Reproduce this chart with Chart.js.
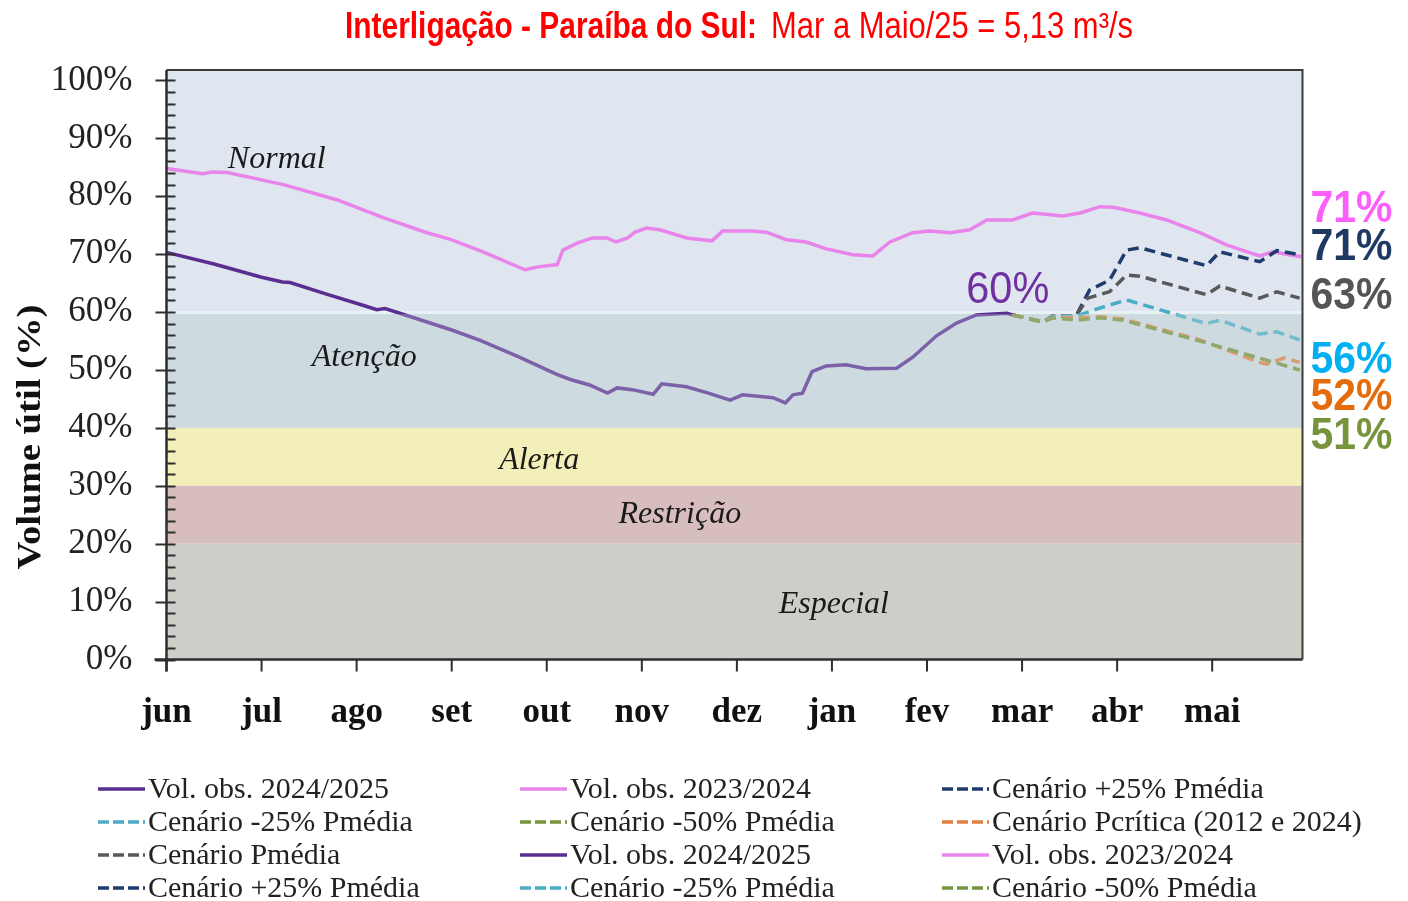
<!DOCTYPE html>
<html>
<head>
<meta charset="utf-8">
<script src="https://cdn.jsdelivr.net/npm/chart.js@4"></script>
<style>
  html, body { margin: 0; padding: 0; background: #fff; }
  #wrap { width: 1408px; height: 901px; position: relative; }
</style>
</head>
<body>
<div id="wrap"><canvas id="volChart" width="1408" height="901"></canvas></div>
<script>
// x values are months counted from 1 June (0 = jun, 11 = mai)
const monthLabels = ['jun', 'jul', 'ago', 'set', 'out', 'nov', 'dez', 'jan', 'fev', 'mar', 'abr', 'mai'];
const yTickValues = [0, 10, 20, 30, 40, 50, 60, 70, 80, 90, 100];

const seriesNames = [
  'Vol. obs. 2024/2025',
  'Vol. obs. 2023/2024',
  'Cenário +25% Pmédia',
  'Cenário -25% Pmédia',
  'Cenário -50% Pmédia',
  'Cenário Pcrítica (2012 e 2024)',
  'Cenário Pmédia'
];
// legend is laid out in 3 columns, row by row (the source repeats entries)
const legendOrder = [0, 1, 2, 3, 4, 5, 6, 0, 1, 2, 3, 4];

// Vol. obs. 2024/2025
const obs2425Months = [0.00, 0.50, 1.00, 1.22, 1.30, 1.70, 2.10, 2.21, 2.30, 2.70, 3.00, 3.30, 3.70, 4.10, 4.24, 4.45, 4.64, 4.74, 4.90, 5.12, 5.21, 5.47, 5.70, 5.93, 6.06, 6.38, 6.51, 6.59, 6.69, 6.79, 6.94, 7.15, 7.36, 7.68, 7.85, 8.10, 8.31, 8.52, 8.84, 8.90];
const obs2425Values = [70.3, 68.3, 66.0, 65.2, 65.1, 63.0, 61.0, 60.4, 60.6, 58.5, 56.9, 55.1, 52.3, 49.3, 48.4, 47.4, 46.0, 46.9, 46.6, 45.8, 47.6, 47.1, 46.0, 44.8, 45.7, 45.2, 44.3, 45.7, 46.0, 49.7, 50.7, 50.9, 50.2, 50.3, 52.2, 55.9, 58.1, 59.5, 59.8, 59.5];

// Vol. obs. 2023/2024
const obs2324Months = [0.00, 0.38, 0.48, 0.64, 1.23, 1.79, 2.28, 2.74, 2.98, 3.33, 3.77, 3.91, 4.11, 4.17, 4.32, 4.48, 4.63, 4.73, 4.85, 4.93, 5.05, 5.19, 5.47, 5.74, 5.85, 6.17, 6.31, 6.52, 6.73, 6.94, 7.22, 7.43, 7.61, 7.85, 8.03, 8.24, 8.45, 8.63, 8.90, 9.11, 9.43, 9.61, 9.82, 9.96, 10.24, 10.52, 10.87, 11.15, 11.50, 11.64, 11.94];
const obs2324Values = [84.8, 83.9, 84.2, 84.1, 82.0, 79.4, 76.3, 73.7, 72.6, 70.4, 67.3, 67.8, 68.2, 70.7, 71.9, 72.8, 72.8, 72.1, 72.8, 73.8, 74.5, 74.2, 72.8, 72.3, 74.0, 74.0, 73.8, 72.5, 72.1, 70.9, 69.9, 69.7, 72.1, 73.7, 74.0, 73.7, 74.2, 75.9, 75.9, 77.1, 76.6, 77.1, 78.2, 78.1, 77.1, 75.9, 73.7, 71.6, 69.7, 70.4, 69.5];

// Cenário +25% Pmédia
const plus25Months = [8.90, 9.22, 9.32, 9.57, 9.71, 9.92, 10.10, 10.24, 10.94, 11.08, 11.50, 11.68, 11.92];
const plus25Values = [59.5, 58.3, 59.3, 59.4, 63.8, 65.5, 70.7, 71.1, 68.0, 70.4, 68.7, 70.6, 69.9];

// Cenário Pmédia
const mediaMonths = [8.90, 9.22, 9.32, 9.57, 9.69, 9.92, 10.10, 10.24, 10.94, 11.08, 11.50, 11.68, 11.92];
const mediaValues = [59.5, 58.3, 59.3, 59.4, 62.4, 63.5, 66.4, 66.2, 63.0, 64.5, 62.4, 63.5, 62.4];

// Cenário -25% Pmédia
const minus25Months = [8.90, 9.22, 9.32, 9.57, 9.82, 10.10, 10.94, 11.08, 11.50, 11.68, 11.92];
const minus25Values = [59.5, 58.3, 59.2, 59.3, 60.7, 62.1, 58.0, 58.6, 56.2, 56.6, 55.2];

// Cenário -50% Pmédia
const minus50Months = [8.90, 9.22, 9.32, 9.57, 9.82, 10.06, 10.87, 11.57, 11.92];
const minus50Values = [59.5, 58.3, 59.0, 58.6, 59.0, 58.6, 55.0, 51.7, 50.0];

// Cenário Pcrítica (2012 e 2024)
const criticaMonths = [8.90, 9.22, 9.32, 9.57, 9.82, 10.06, 10.87, 11.50, 11.57, 11.76, 11.92];
const criticaValues = [59.5, 58.3, 59.0, 59.0, 59.2, 58.8, 55.2, 51.3, 51.0, 52.1, 51.3];

// end-of-period labels
const endLabels = ['71%', '71%', '63%', '56%', '52%', '51%'];
const peakLabel = '60%';

const seriesColors = ['#5a2d91', '#e884ea', '#1f3c6e', '#4bacc6', '#77933c', '#e0803e', '#595959'];
const dashed = [false, false, true, true, true, true, true];

const pts = (xs, ys) => xs.map((x, i) => ({ x: x, y: ys[i] }));

const makeSet = (idx, data) => ({
  label: seriesNames[idx],
  data: data,
  borderColor: seriesColors[idx],
  borderWidth: dashed[idx] ? 3.5 : 3.5,
  borderDash: dashed[idx] ? [11, 6] : [],
  pointRadius: 0,
  fill: false,
  tension: 0
});

// draw order: scenarios first, observed lines on top
const datasets = [
  makeSet(4, pts(minus50Months, minus50Values)),
  makeSet(5, pts(criticaMonths, criticaValues)),
  makeSet(3, pts(minus25Months, minus25Values)),
  makeSet(6, pts(mediaMonths, mediaValues)),
  makeSet(2, pts(plus25Months, plus25Values)),
  makeSet(1, pts(obs2324Months, obs2324Values)),
  makeSet(0, pts(obs2425Months, obs2425Values))
];

// draw text squeezed/stretched horizontally to a given width
function fitText(ctx, text, x, y, width, align) {
  const w = ctx.measureText(text).width;
  const s = width ? width / w : 1;
  ctx.save();
  ctx.translate(x, y);
  ctx.scale(s, 1);
  ctx.textAlign = 'left';
  const off = align === 'center' ? -w / 2 : (align === 'right' ? -w : 0);
  ctx.fillText(text, off, 0);
  ctx.restore();
}

const bands = [
  { from: 60, to: 200, color: '#dfe6ef' },
  { from: 40, to: 60, color: '#cddbe0' },
  { from: 30, to: 40, color: '#f2efb9' },
  { from: 20, to: 30, color: '#d7bdbd' },
  { from: 0, to: 20, color: '#cfcdc8' }
];

const bandsPlugin = {
  id: 'bands',
  beforeDatasetsDraw(chart) {
    const { ctx, chartArea: a, scales: { y } } = chart;
    ctx.save();
    bands.forEach(b => {
      const top = Math.max(a.top, y.getPixelForValue(b.to));
      const bot = y.getPixelForValue(b.from);
      ctx.fillStyle = b.color;
      ctx.fillRect(a.left, top, a.right - a.left, bot - top);
    });
    // light seam on the 60% boundary
    ctx.fillStyle = 'rgba(236,243,245,0.9)';
    ctx.fillRect(a.left, y.getPixelForValue(60) - 1, a.right - a.left, 3);
    ctx.restore();
  },
  afterDatasetsDraw(chart) {
    const { ctx, chartArea: a, scales: { x, y } } = chart;
    ctx.save();
    // the "Atenção" band sits over the lines in the source
    const t = y.getPixelForValue(60) + 2, b = y.getPixelForValue(40);
    ctx.fillStyle = 'rgba(205,219,224,0.3)';
    ctx.fillRect(a.left, t, a.right - a.left, b - t);

    // frame
    ctx.strokeStyle = '#3c3c3c';
    ctx.lineWidth = 2;
    ctx.beginPath();
    ctx.moveTo(a.left, a.top); ctx.lineTo(a.right, a.top); ctx.lineTo(a.right, a.bottom);
    ctx.stroke();
    ctx.lineWidth = 2.5;
    ctx.strokeStyle = '#2e2e2e';
    ctx.beginPath();
    ctx.moveTo(a.left, a.top); ctx.lineTo(a.left, a.bottom + 12);
    ctx.moveTo(a.left - 12, a.bottom); ctx.lineTo(a.right, a.bottom);
    ctx.stroke();

    // y ticks: major every 10, minor every 2
    ctx.lineWidth = 2;
    ctx.beginPath();
    for (let v = 0; v <= 100; v += 2) {
      const py = Math.round(y.getPixelForValue(v)) + 0.5;
      if (v % 10 === 0) { ctx.moveTo(a.left - 11, py); ctx.lineTo(a.left + 9, py); }
      else { ctx.moveTo(a.left, py); ctx.lineTo(a.left + 9, py); }
    }
    // x ticks on each month
    monthLabels.forEach((m, i) => {
      const px = x.getPixelForValue(i);
      ctx.moveTo(px, a.bottom); ctx.lineTo(px, a.bottom + 12);
    });
    ctx.stroke();
    ctx.restore();
  }
};

const bandNotes = [
  { text: 'Normal', x: 1.16, y: 86.3 },
  { text: 'Atenção', x: 2.08, y: 52.2 },
  { text: 'Alerta', x: 3.92, y: 34.3 },
  { text: 'Restrição', x: 5.40, y: 25.1 },
  { text: 'Especial', x: 7.02, y: 9.4 }
];
const endLabelY = [77.6, 71.1, 62.6, 51.5, 45.1, 38.5];
const endLabelColors = ['#fb5efb', '#1f3864', '#555555', '#00b0f0', '#e46c0a', '#77933c'];

const notesPlugin = {
  id: 'notes',
  afterDraw(chart) {
    const { ctx, chartArea: a, scales: { x, y } } = chart;
    ctx.save();
    ctx.textBaseline = 'middle';

    // title
    ctx.fillStyle = '#ff0000';
    ctx.font = 'bold 36px "Liberation Sans"';
    fitText(ctx, 'Interligação - Paraíba do Sul:', 345, 28, 412);
    ctx.font = '36px "Liberation Sans"';
    fitText(ctx, 'Mar a Maio/25 = 5,13 m³/s', 771, 28, 362);

    // y axis title
    ctx.fillStyle = '#111';
    ctx.font = 'bold 34px "Liberation Serif"';
    ctx.save();
    ctx.translate(31, 437);
    ctx.rotate(-Math.PI / 2);
    fitText(ctx, 'Volume útil (%)', 0, 0, 265, 'center');
    ctx.restore();

    // band names
    ctx.fillStyle = '#1a1a1a';
    ctx.font = 'italic 32px "Liberation Serif"';
    bandNotes.forEach(n => {
      ctx.textAlign = 'center';
      ctx.fillText(n.text, x.getPixelForValue(n.x), y.getPixelForValue(n.y));
    });

    // peak label
    ctx.fillStyle = '#7030a0';
    ctx.font = '44px "Liberation Sans"';
    fitText(ctx, peakLabel, x.getPixelForValue(8.85), y.getPixelForValue(63.6), 83, 'center');

    // end-of-period labels
    ctx.font = 'bold 44px "Liberation Sans"';
    endLabels.forEach((t, i) => {
      ctx.fillStyle = endLabelColors[i];
      fitText(ctx, t, a.right + 8, y.getPixelForValue(endLabelY[i]), 82);
    });

    // legend, 3 columns x 4 rows
    ctx.font = '30px "Liberation Serif"';
    const sx = 241 / ctx.measureText(seriesNames[0]).width;
    legendOrder.forEach((s, k) => {
      const col = k % 3, row = Math.floor(k / 3);
      const lx = 98 + col * 422, ly = 789 + row * 33;
      ctx.strokeStyle = seriesColors[s];
      ctx.lineWidth = 3.5;
      ctx.setLineDash(dashed[s] ? [11, 4] : []);
      ctx.beginPath();
      ctx.moveTo(lx, ly); ctx.lineTo(lx + 47, ly);
      ctx.stroke();
      ctx.setLineDash([]);
      ctx.fillStyle = '#222';
      ctx.save();
      ctx.translate(lx + 50, ly + 1);
      ctx.scale(sx, 1);
      ctx.textAlign = 'left';
      ctx.fillText(seriesNames[s], 0, 0);
      ctx.restore();
    });
    ctx.restore();
  }
};

const chart = new Chart(document.getElementById('volChart').getContext('2d'), {
  type: 'line',
  data: { datasets: datasets },
  options: {
    responsive: false,
    animation: false,
    layout: { padding: { top: 70, right: 105.5, bottom: 0, left: 0 } },
    plugins: { legend: { display: false }, tooltip: { enabled: false }, title: { display: false } },
    scales: {
      x: {
        type: 'linear',
        min: 0,
        max: 11.95,
        grid: { display: false },
        border: { display: false },
        afterBuildTicks: s => { s.ticks = monthLabels.map((_, i) => ({ value: i })); },
        afterFit: s => { s.height = 241.5; },
        ticks: {
          autoSkip: false,
          maxRotation: 0,
          padding: 24,
          color: '#111',
          font: { family: 'Liberation Serif', size: 35, weight: 'bold' },
          callback: v => monthLabels[v]
        }
      },
      y: {
        min: 0,
        max: 101.8,
        grid: { display: false },
        border: { display: false },
        afterBuildTicks: s => { s.ticks = yTickValues.map(v => ({ value: v })); },
        afterFit: s => { s.width = 166.5; },
        ticks: {
          padding: 26,
          color: '#222',
          font: { family: 'Liberation Serif', size: 35 },
          callback: v => v + '%'
        }
      }
    }
  },
  plugins: [bandsPlugin, notesPlugin]
});
</script>
</body>
</html>
